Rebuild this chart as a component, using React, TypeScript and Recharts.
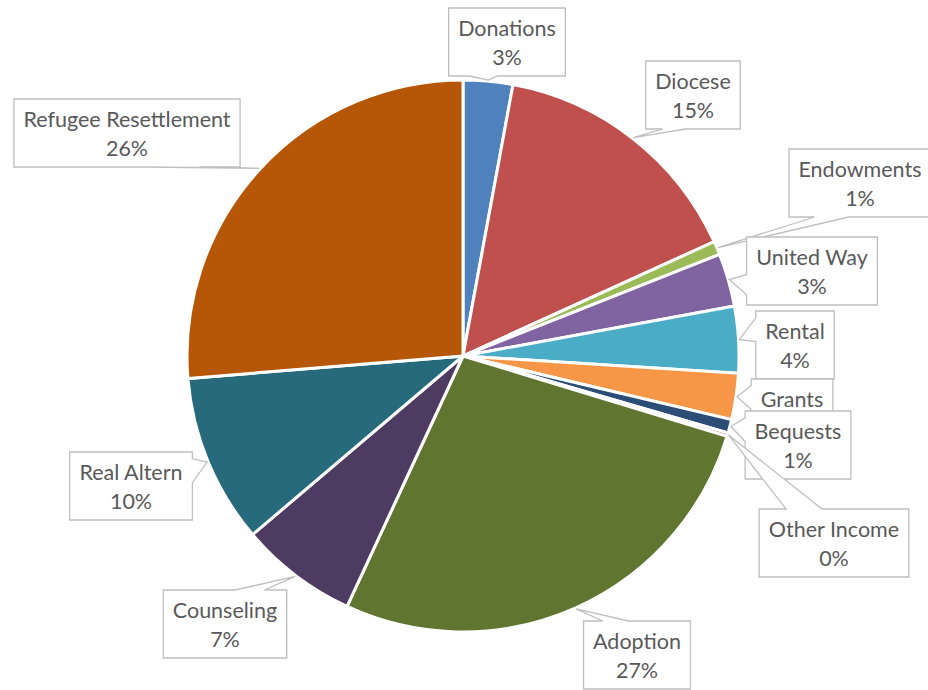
import React from 'react';
import { PieChart, Pie, Cell } from 'recharts';

const categories = [
  'Donations',
  'Diocese',
  'Endowments',
  'United Way',
  'Rental',
  'Grants',
  'Bequests',
  'Other Income',
  'Adoption',
  'Counseling',
  'Real Altern',
  'Refugee Resettlement',
];

// share of income, percent
const shares = [2.9, 15.3, 0.8, 3.1, 3.9, 2.7, 0.8, 0.2, 27.2, 6.9, 9.9, 26.3];

const colors = [
  '#4F81BD',
  '#C0504D',
  '#9BBB59',
  '#8064A2',
  '#4BACC6',
  '#F79646',
  '#2C4D75',
  '#772C2A',
  '#5F7530',
  '#4D3B62',
  '#276A7C',
  '#B65708',
];

// callout box centres, relative to the pie centre
const labelOffsets: [number, number][] = [
  [44, -314],
  [230, -261],
  [397, -173],
  [349, -85],
  [332, -11],
  [329, 57],
  [335, 89],
  [371, 187],
  [174, 299],
  [-238, 268],
  [-332, 130],
  [-336, -223],
];

const data = categories.map((name, i) => ({ name, value: shares[i] }));

const FONT_SIZE = 21.5;
const FONT_FAMILY = 'Lato, "Noto Sans", sans-serif';
const BOX_H = 68;

let ctx: CanvasRenderingContext2D | null = null;
const measure = (s: string) => {
  if (!ctx) {
    ctx = document.createElement('canvas').getContext('2d');
  }
  if (!ctx) return s.length * 11;
  ctx.font = `${FONT_SIZE}px Lato`;
  return ctx.measureText(s).width;
};

// rectangle with a wedge pointing at (tx, ty)
const calloutPath = (x0: number, y0: number, x1: number, y1: number, tx: number, ty: number) => {
  const w = x1 - x0;
  const h = y1 - y0;
  const cxm = (x0 + x1) / 2;
  const cym = (y0 + y1) / 2;
  const hBase = tx < cxm ? [x0 + 0.18 * w, x0 + 0.42 * w] : [x0 + 0.58 * w, x0 + 0.82 * w];
  const vBase = ty < cym ? [y0 + 0.1 * h, y0 + 0.45 * h] : [y0 + 0.55 * h, y0 + 0.85 * h];
  const p: string[] = [`M${x0},${y0}`];
  const side = ty >= y0 && ty <= y1 ? (tx < x0 ? 'left' : 'right') : ty < y0 ? 'top' : 'bottom';
  if (side === 'top') p.push(`L${hBase[0]},${y0}`, `L${tx},${ty}`, `L${hBase[1]},${y0}`);
  p.push(`L${x1},${y0}`);
  if (side === 'right') p.push(`L${x1},${vBase[0]}`, `L${tx},${ty}`, `L${x1},${vBase[1]}`);
  p.push(`L${x1},${y1}`);
  if (side === 'bottom') p.push(`L${hBase[1]},${y1}`, `L${tx},${ty}`, `L${hBase[0]},${y1}`);
  p.push(`L${x0},${y1}`);
  if (side === 'left') p.push(`L${x0},${vBase[1]}`, `L${tx},${ty}`, `L${x0},${vBase[0]}`);
  p.push('Z');
  return p.join(' ');
};

const renderLabel = (props: any) => {
  const { cx, cy, midAngle, outerRadius, index, percent } = props;
  const rad = Math.PI / 180;
  const tx = cx + (outerRadius + 1) * Math.cos(-midAngle * rad);
  const ty = cy + (outerRadius + 1) * Math.sin(-midAngle * rad);
  const [dx, dy] = labelOffsets[index];
  const bx = cx + dx;
  const by = cy + dy;
  const lines = [categories[index], `${Math.round(percent * 100)}%`];
  const w = Math.max(...lines.map(measure)) + 19;
  const x0 = bx - w / 2;
  const x1 = bx + w / 2;
  const y0 = by - BOX_H / 2;
  const y1 = by + BOX_H / 2;
  return (
    <g key={`lbl-${index}`}>
      <path d={calloutPath(x0, y0, x1, y1, tx, ty)} fill="#fff" stroke="#BFBFBF" strokeWidth={1.3} />
      {lines.map((t, i) => (
        <text
          key={i}
          x={bx}
          y={by + (i === 0 ? -14.5 : 14.5)}
          textAnchor="middle"
          dominantBaseline="central"
          fill="#595959"
          fontSize={FONT_SIZE}
          fontFamily={FONT_FAMILY}
        >
          {t}
        </text>
      ))}
    </g>
  );
};

export default function App() {
  return (
    <div style={{ position: 'absolute', left: 0, top: 0, width: 928, height: 690, background: '#fff' }}>
      <PieChart width={928} height={690} margin={{ top: 0, right: 0, bottom: 0, left: 0 }}>
        <Pie
          data={data}
          dataKey="value"
          nameKey="name"
          cx={463}
          cy={356}
          outerRadius={276}
          startAngle={90}
          endAngle={-270}
          stroke="#fff"
          strokeWidth={3}
          labelLine={false}
          label={renderLabel}
          isAnimationActive={false}
        >
          {data.map((d, i) => (
            <Cell key={d.name} fill={colors[i]} />
          ))}
        </Pie>
      </PieChart>
    </div>
  );
}
